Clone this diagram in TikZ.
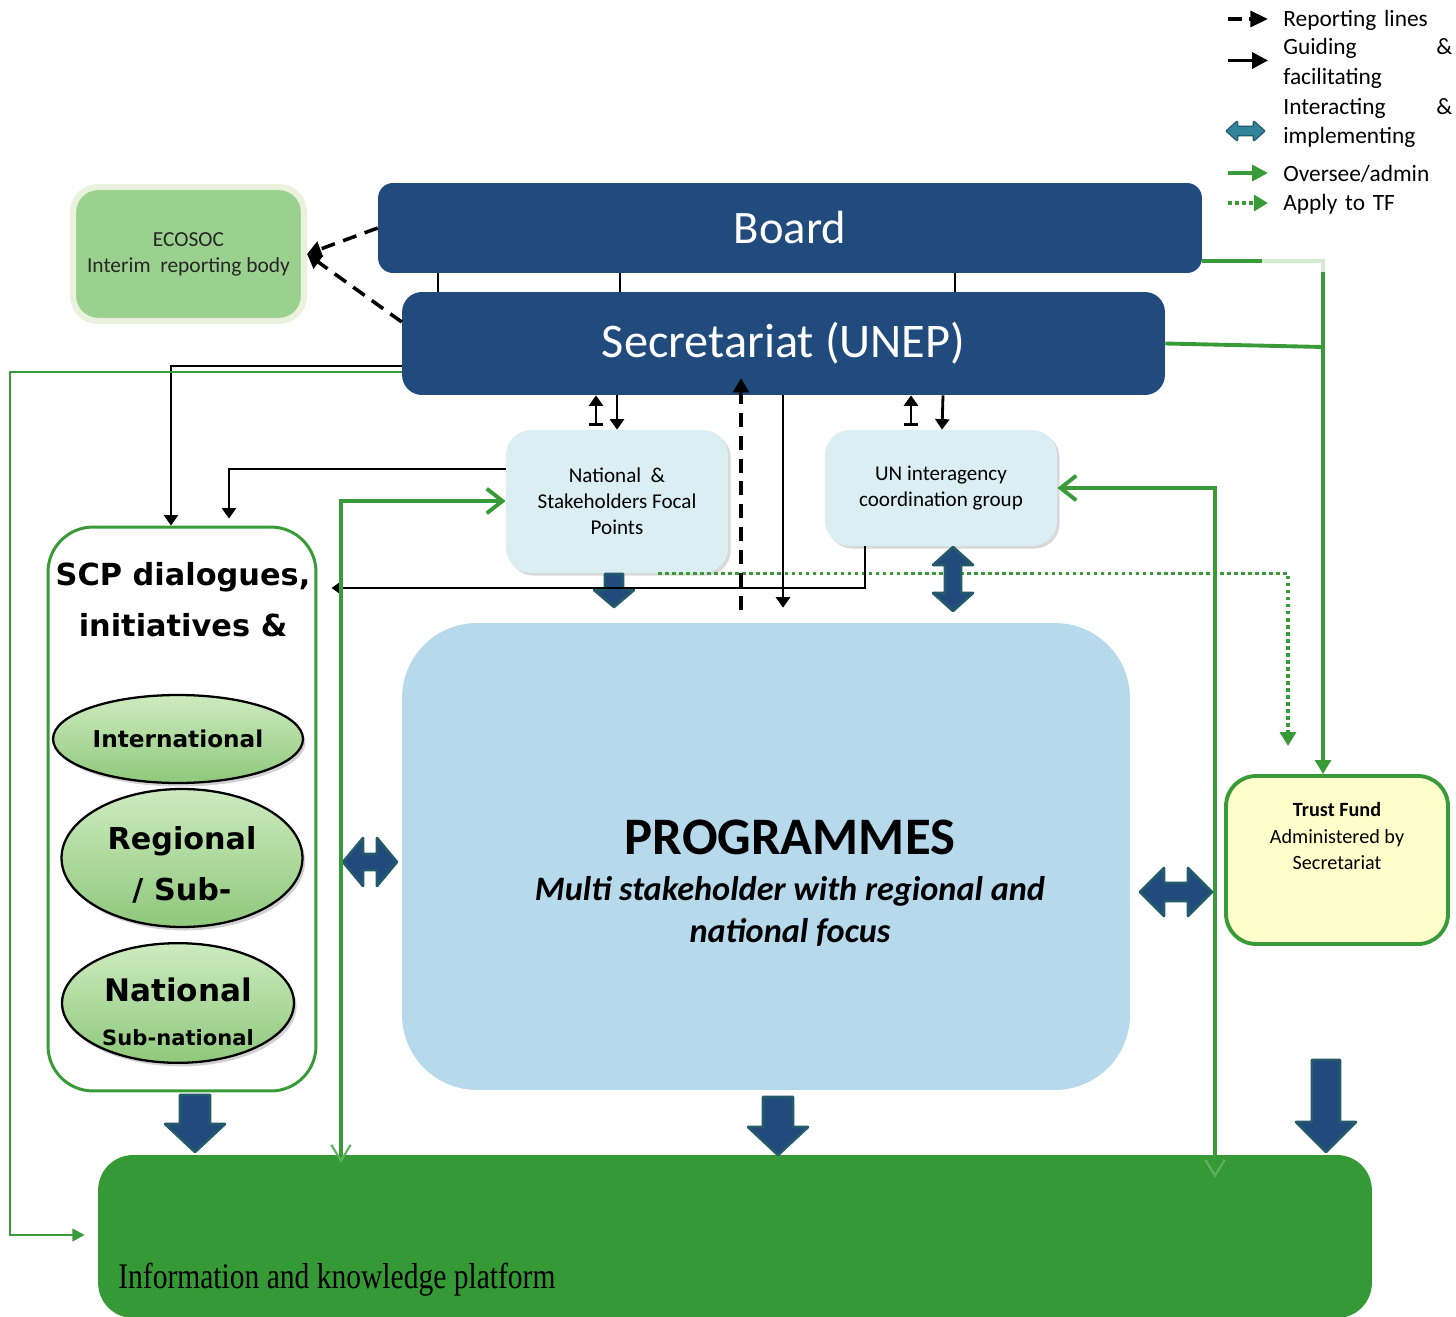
\documentclass[tikz,border=0pt]{standalone}
\usepackage{fontspec}
\setmainfont{Carlito}
\newfontfamily\scpfont{DejaVu Sans}
\newfontfamily\platfont[FakeStretch=0.82]{Liberation Serif}
\usetikzlibrary{arrows.meta,calc,positioning,shapes.geometric,shadows}

\definecolor{boardblue}{HTML}{214A7D}
\definecolor{focalfill}{HTML}{DAEEF3}
\definecolor{progfill}{HTML}{B7D9EC}
\definecolor{ecofill}{HTML}{9BD18F}
\definecolor{ecoborder}{HTML}{EAF1DD}
\definecolor{platgreen}{HTML}{359A35}
\definecolor{linegreen}{HTML}{389B38}
\definecolor{tipgreen}{HTML}{5DB35D}
\definecolor{fadegreen}{HTML}{D3EBCF}
\definecolor{trustfill}{HTML}{FFFFCC}
\definecolor{elltop}{HTML}{CDEBBF}
\definecolor{ellbot}{HTML}{8FC87C}
\definecolor{blkborder}{HTML}{245A6C}
\definecolor{tealarrow}{HTML}{31849B}

% block arrows: x, top, tip, half shaft, half head, head length
\newcommand{\blkdown}[6]{%
  \filldraw[blk] (#1-#4,#2) -- (#1+#4,#2) -- (#1+#4,#3-#6) -- (#1+#5,#3-#6) -- (#1,#3)
    -- (#1-#5,#3-#6) -- (#1-#4,#3-#6) -- cycle;}
% x, top, bottom, half shaft, half head, head length
\newcommand{\blkvboth}[6]{%
  \filldraw[blk] (#1,#2) -- (#1+#5,#2+#6) -- (#1+#4,#2+#6) -- (#1+#4,#3-#6) -- (#1+#5,#3-#6)
    -- (#1,#3) -- (#1-#5,#3-#6) -- (#1-#4,#3-#6) -- (#1-#4,#2+#6) -- (#1-#5,#2+#6) -- cycle;}
% y, left, right, half shaft, half head, head length
\newcommand{\blkhboth}[6]{%
  \filldraw[blk] (#2,#1) -- (#2+#6,#1-#5) -- (#2+#6,#1-#4) -- (#3-#6,#1-#4) -- (#3-#6,#1-#5)
    -- (#3,#1) -- (#3-#6,#1+#5) -- (#3-#6,#1+#4) -- (#2+#6,#1+#4) -- (#2+#6,#1+#5) -- cycle;}

\tikzset{
  darkbox/.style={fill=boardblue, text=white, inner sep=0pt},
  ecobox/.style={fill=ecofill, draw=ecoborder, line width=3.5pt, rounded corners=0.5cm,
    minimum width=4.62cm, minimum height=2.68cm, align=center, text=black!85,
    font=\fontsize{12.2}{14.8}\selectfont},
  lightbox/.style={fill=focalfill, rounded corners=0.5cm, align=center,
    drop shadow={shadow xshift=1.5pt, shadow yshift=-1.5pt, opacity=0.3},
    font=\fontsize{12}{14.8}\selectfont},
  ellnode/.style={ellipse, draw=black, line width=1.3pt, top color=elltop, bottom color=ellbot,
    align=center, inner sep=0pt,
    drop shadow={shadow xshift=1.5pt, shadow yshift=-2pt, opacity=0.35}},
  blk/.style={fill=boardblue, draw=blkborder, line width=1.5pt, line join=round},
  guide/.style={line width=1.6pt, -{Triangle[length=6pt,width=8pt]}},
  report/.style={line width=2pt, dash pattern=on 8pt off 5pt, -{Triangle[length=8pt,width=9pt]}},
  oversee/.style={draw=linegreen, line width=2.2pt},
  overseethin/.style={draw=linegreen, line width=1.6pt},
  bothgreen/.style={oversee, {Straight Barb[length=9pt,width=14pt]}-{Straight Barb[length=9pt,width=11pt,line width=1.2pt,color=tipgreen]}},
  apply/.style={draw=linegreen, line width=2pt, dash pattern=on 2pt off 2pt,
    -{Triangle[length=8pt,width=9pt,fill=linegreen]}},
  legendtext/.style={anchor=west, inner sep=0pt, text width=3.38cm, align=left,
    font=\fontsize{13.3}{16.7}\selectfont},
}

\begin{document}
\begin{tikzpicture}[x=0.02cm, y=-0.02cm]
\useasboundingbox (0,0) rectangle (1456,1317);

% boxes
\node[darkbox, minimum width=16.48cm, minimum height=1.8cm, rounded corners=0.3cm,
  font=\fontsize{26.5}{31}\selectfont] (board) at (790,228) {Board};
\node[darkbox, minimum width=15.26cm, minimum height=2.06cm, rounded corners=0.4cm,
  font=\fontsize{27.5}{32}\selectfont] (secr) at (783.5,343.5) {Secretariat (UNEP)};
\node[ecobox] (ecosoc) at (188.5,254) {ECOSOC\\Interim\ \ reporting body};
\node[lightbox, minimum width=4.44cm, minimum height=2.86cm] (focal) at (617,501.5)
  {National\ \ \&\\Stakeholders Focal\\Points};
\node[lightbox, minimum width=4.64cm, minimum height=2.32cm] (un) at (941,488)
  {UN interagency\\coordination group};

\node[draw=linegreen, line width=1.7pt, fill=white, rounded corners=0.9cm,
  minimum width=5.36cm, minimum height=11.28cm] (scp) at (182,809) {};
\node[align=center, font=\scpfont\bfseries\fontsize{17.3}{29}\selectfont] (scptitle) at (183,600)
  {SCP dialogues,\\initiatives \&};
\node[ellnode, minimum width=5cm, minimum height=1.76cm,
  font=\scpfont\bfseries\fontsize{13.2}{16}\selectfont] (intl) at (178,739) {International};
\node[ellnode, minimum width=4.82cm, minimum height=2.76cm, text height=49.5pt,
  font=\scpfont\bfseries\fontsize{17.2}{29}\selectfont] (regional) at (182,858) {Regional\\/ Sub-};
\node[ellnode, minimum width=4.64cm, minimum height=2.32cm, text height=48pt,
  font=\scpfont\bfseries\fontsize{17.7}{25}\selectfont] (national) at (178,1003)
  {National\\{\fontsize{12}{25}\selectfont Sub-national}};

\node[fill=progfill, rounded corners=1.5cm, minimum width=14.56cm, minimum height=9.34cm] (prog)
  at (766,856.5) {};
\node[align=center, inner sep=0pt, font=\fontsize{19.5}{23.8}\selectfont\bfseries\itshape] (progtitle)
  at (790,883) {{\upshape\fontsize{30}{36}\selectfont PROGRAMMES}\\[2.5pt]
   Multi stakeholder with regional and\\national focus};

\node[fill=trustfill, draw=linegreen, line width=2.2pt, rounded corners=0.6cm,
  minimum width=4.44cm, minimum height=3.36cm] (trust) at (1337,860) {};
\node[align=center, inner sep=0pt, font=\fontsize{11.5}{15}\selectfont] (trusttext) at (1337,836)
  {\textbf{Trust Fund}\\Administered by\\Secretariat};

\node[fill=platgreen, rounded corners=0.7cm, minimum width=25.48cm, minimum height=3.26cm] (plat)
  at (735,1236.5) {};
\node[anchor=west, inner sep=0pt, font=\platfont\fontsize{20.5}{24}\selectfont] (platlabel)
  at (118,1280) {Information and knowledge platform};

% legend
\node[legendtext] (lgrep) at (1283,20) {Reporting lines};
\node[legendtext] (lgguide) at (1283,63.5) {Guiding\hfill\&\\facilitating};
\node[legendtext] (lginter) at (1283,123) {Interacting\hfill\&\\implementing};
\node[legendtext] (lgover) at (1283,174) {Oversee/admin};
\node[legendtext] (lgapply) at (1283,204) {Apply to TF};

\draw[line width=2pt, dash pattern=on 8pt off 4pt, -{Triangle[length=10pt,width=9pt]}]
  ($(lgrep.west)+(-55,-1)$) -- ($(lgrep.west)+(-15,-1)$);
\draw[line width=2pt, -{Triangle[length=9pt,width=9pt]}]
  ($(lgguide.west)+(-55,-3)$) -- ($(lgguide.west)+(-15,-3)$);
\blkhboth{131}{1227}{1264}{4}{9}{10}
\fill[tealarrow] (1227,131) -- (1237,122) -- (1237,127) -- (1254,127) -- (1254,122) -- (1264,131)
  -- (1254,140) -- (1254,135) -- (1237,135) -- (1237,140) -- cycle;
\draw[oversee, line width=2pt, -{Triangle[length=9pt,width=9pt]}]
  ($(lgover.west)+(-55,-1)$) -- ($(lgover.west)+(-15,-1)$);
\draw[apply] ($(lgapply.west)+(-55,-1)$) -- ($(lgapply.west)+(-15,-1)$);

% apply to trust fund
\draw[apply] (658,0 |- focal.south) -| ($(1288,0 |- trust.north)+(0,-28)$);

% block arrows
\blkdown{614}{574}{607}{9}{20}{17}
\blkvboth{953}{547}{611}{8}{20}{18}
\blkhboth{862}{343}{397}{8}{24}{20}
\blkhboth{892}{1140}{1212}{9}{24}{24}
\blkdown{195}{1095}{1152}{15}{30}{28}
\blkdown{778}{1097}{1155}{15}{30}{28}
\blkdown{1326}{1060}{1152}{14}{30}{30}

% board and secretariat
\foreach \xx in {438,620,955}
  \draw[line width=1.6pt] (\xx,0 |- board.south) -- (\xx,0 |- secr.north);

% reporting lines
\draw[report] (board.west) -- (ecosoc.east);
\draw[report] (secr.west |- 0,322) -- (ecosoc.east);
\draw[report, line width=1.8pt] ($(741,0 |- prog.north)+(0,-13)$) -- ($(741,0 |- secr.south)+(0,-17)$);

% guiding and facilitating
\draw[line width=1.6pt, {Bar[width=8pt]}-{Triangle[length=6pt,width=8pt]}]
  ($(596,0 |- focal.north)+(0,-4)$) -- (596,0 |- secr.south);
\draw[guide] (617,0 |- secr.south) -- (617,0 |- focal.north);
\draw[line width=1.6pt, {Bar[width=8pt]}-{Triangle[length=6pt,width=8pt]}]
  ($(911,0 |- un.north)+(0,-4)$) -- (911,0 |- secr.south);
\draw[guide] (943,0 |- secr.south) -- (942,0 |- un.north);
\draw[guide] (783,0 |- secr.south) -- ($(783,0 |- prog.north)+(0,-15)$);
\draw[guide] (secr.west |- 0,366) -| (171,0 |- scp.north);
\draw[guide] (focal.west |- 0,469) -| ($(229,0 |- scp.north)+(0,-7)$);
\draw[guide] (865,0 |- un.south) |- ($(scp.east |- 0,588)+(14,0)$);

% oversee / admin
\draw[bothgreen] (focal.west |- 0,501) -| ($(341,0 |- plat.north)+(0,8)$);
\draw[bothgreen] (un.east) -| ($(1215,0 |- plat.north)+(0,23)$);
\draw[oversee, -{Triangle[length=8pt,width=9pt]}] (board.east |- 0,261) -| (1323,0 |- trust.north);
\draw[fadegreen, line width=2.2pt] (1262,261) -| (1323,272);
\draw[oversee] (secr.east) -- (1323,347);
\draw[overseethin, -{Triangle[length=7pt,width=7pt]}] (secr.west |- 0,372) -| (10,1235)
  -- ($(plat.west |- 0,1235)+(-13,0)$);
\end{tikzpicture}
\end{document}
